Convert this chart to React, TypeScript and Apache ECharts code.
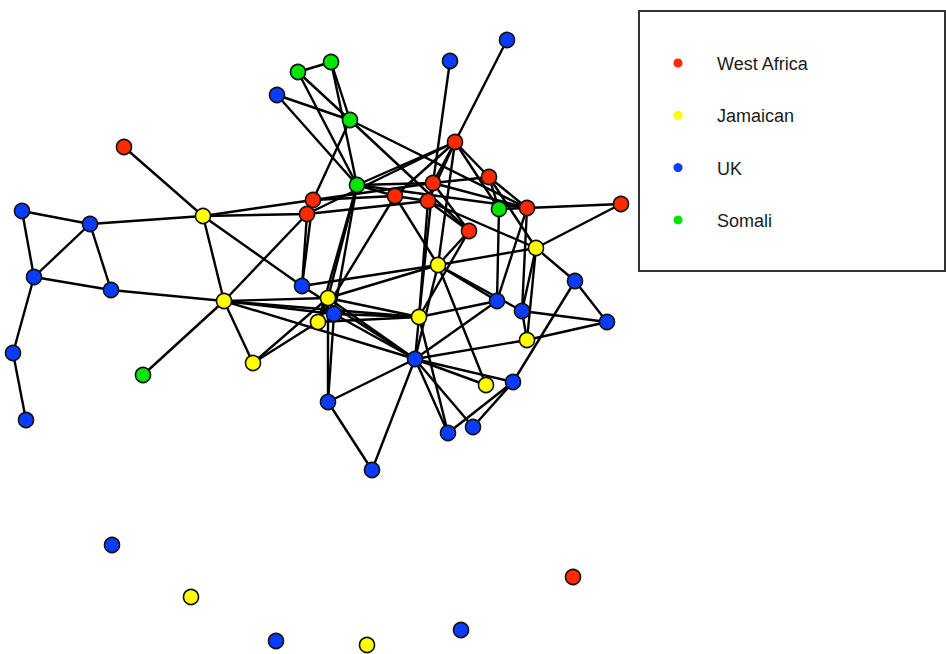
import React, { useEffect, useRef } from "react";
import * as echarts from "echarts";

// Group labels and their node colours
const categories = ["West Africa", "Jamaican", "UK", "Somali"];
const categoryColors = ["#ff2a00", "#ffff00", "#0a3cff", "#00e600"];

// Node layout: [id, category index, x, y] in plot units (y grows downward)
const westAfricaNodes: [string, number, number, number][] = [
  ["R1", 0, 124, 147], ["R2", 0, 313, 200], ["R3", 0, 307, 214], ["R4", 0, 395, 196],
  ["R5", 0, 433, 183], ["R6", 0, 428, 201], ["R7", 0, 455, 142], ["R8", 0, 489, 177],
  ["R9", 0, 469, 231], ["R10", 0, 527, 208], ["R11", 0, 621, 204], ["R12", 0, 573, 577],
];
const jamaicanNodes: [string, number, number, number][] = [
  ["Y1", 1, 203, 216], ["Y2", 1, 224, 301], ["Y3", 1, 253, 363], ["Y4", 1, 328, 298],
  ["Y5", 1, 318, 322], ["Y6", 1, 419, 317], ["Y7", 1, 438, 265], ["Y8", 1, 536, 248],
  ["Y9", 1, 527, 340], ["Y10", 1, 486, 385], ["Y11", 1, 191, 597], ["Y12", 1, 367, 645],
];
const ukNodes: [string, number, number, number][] = [
  ["B1", 2, 22, 211], ["B2", 2, 90, 224], ["B3", 2, 34, 277], ["B4", 2, 111, 290],
  ["B5", 2, 13, 353], ["B6", 2, 26, 420], ["B7", 2, 277, 95], ["B8", 2, 450, 61],
  ["B9", 2, 507, 40], ["B10", 2, 302, 286], ["B11", 2, 334, 314], ["B12", 2, 415, 359],
  ["B13", 2, 328, 402], ["B14", 2, 372, 470], ["B15", 2, 497, 301], ["B16", 2, 522, 311],
  ["B17", 2, 575, 281], ["B18", 2, 607, 322], ["B19", 2, 513, 382], ["B20", 2, 448, 433],
  ["B21", 2, 473, 427], ["B22", 2, 112, 545], ["B23", 2, 276, 641], ["B24", 2, 461, 630],
];
const somaliNodes: [string, number, number, number][] = [
  ["G1", 3, 298, 72], ["G2", 3, 331, 62], ["G3", 3, 350, 120], ["G4", 3, 357, 185],
  ["G5", 3, 499, 209], ["G6", 3, 143, 375],
];

// Ties between people
const edges: [string, string][] = [
  ["B1", "B2"], ["B1", "B3"], ["B2", "B3"], ["B2", "B4"], ["B3", "B4"], ["B3", "B5"], ["B5", "B6"],
  ["B2", "Y1"], ["B4", "Y2"], ["R1", "Y1"], ["Y1", "Y2"], ["Y1", "R2"], ["Y1", "R3"], ["Y1", "B10"],
  ["Y2", "R3"], ["Y2", "G6"], ["Y2", "Y3"], ["Y2", "Y4"], ["Y2", "B11"], ["Y2", "Y6"], ["Y2", "B12"],
  ["Y3", "Y4"], ["Y3", "Y5"],
  ["G1", "G2"], ["G1", "G3"], ["G1", "G4"], ["B7", "G3"], ["B7", "G4"], ["G2", "G3"], ["G2", "G4"],
  ["G3", "R2"], ["G3", "R9"], ["G3", "R10"], ["G4", "R7"], ["G4", "R5"], ["G4", "Y4"], ["G4", "Y5"],
  ["G4", "B11"], ["G4", "R10"], ["G4", "R4"],
  ["B8", "R5"], ["B9", "R7"], ["R7", "R8"], ["R7", "R5"], ["R7", "R6"], ["R7", "R4"], ["R7", "Y7"],
  ["R7", "G5"], ["R7", "R3"],
  ["R2", "R4"], ["R2", "R5"], ["R3", "R6"], ["R3", "B10"], ["R2", "B10"], ["R4", "R6"], ["R4", "Y5"],
  ["R5", "R6"], ["R5", "Y6"], ["R5", "R8"], ["R5", "R10"], ["R6", "Y6"], ["R6", "R9"], ["R6", "Y8"],
  ["R8", "G5"], ["R8", "R10"], ["R8", "Y8"], ["R9", "Y7"], ["R9", "R5"], ["R10", "R11"], ["R11", "Y8"],
  ["G5", "R10"], ["G5", "B15"], ["Y8", "B16"], ["Y8", "Y9"], ["Y8", "B17"], ["B17", "B18"],
  ["B17", "B19"], ["B16", "B18"], ["B16", "Y9"], ["B15", "Y7"], ["Y7", "B16"], ["Y7", "Y4"],
  ["Y7", "B12"], ["Y7", "B10"], ["Y7", "Y10"], ["B15", "B12"], ["Y6", "B15"], ["Y6", "Y4"],
  ["Y6", "B11"], ["Y6", "B12"], ["Y6", "Y5"], ["Y6", "B20"], ["Y4", "B11"], ["Y4", "Y5"],
  ["Y4", "B13"], ["B11", "B13"], ["B11", "B12"], ["Y4", "B12"], ["B12", "B13"], ["B12", "B14"],
  ["B13", "B14"], ["B12", "Y10"], ["B12", "B20"], ["B12", "B21"], ["B12", "Y9"], ["B12", "B19"],
  ["B19", "B20"], ["B19", "B21"], ["Y9", "B18"], ["B10", "B12"], ["R9", "Y6"], ["Y7", "R4"],
  ["Y7", "Y8"], ["B16", "R10"], ["B15", "R10"],
];

export default function App() {
  const ref = useRef<HTMLDivElement>(null);

  useEffect(() => {
    if (!ref.current) return;
    const chart = echarts.init(ref.current, undefined, { renderer: "svg" });

    const allNodes = [...westAfricaNodes, ...jamaicanNodes, ...ukNodes, ...somaliNodes];
    const data = allNodes.map(([id, cat, x, y]) => ({
      name: id,
      value: [x, y],
      category: cat,
    }));
    const links = edges.map(([s, t]) => ({ source: s, target: t }));

    // Legend box drawn from the category list
    const legendX = 639;
    const legendY = 11;
    const legendItems = categories.flatMap((name, i) => [
      {
        type: "circle",
        shape: { cx: legendX + 39, cy: legendY + 52 + i * 52.3, r: 4.5 },
        style: { fill: categoryColors[i] },
        z: 20,
      },
      {
        type: "text",
        x: legendX + 78,
        y: legendY + 53 + i * 52.3,
        style: {
          text: name,
          fill: "#1a1a1a",
          font: "18px 'Liberation Sans', Arial, sans-serif",
          verticalAlign: "middle",
        },
        z: 20,
      },
    ]);

    chart.setOption({
      animation: false,
      backgroundColor: "#ffffff",
      grid: { left: 0, right: 0, top: 0, bottom: 0 },
      xAxis: { type: "value", min: 0, max: 946, show: false },
      yAxis: { type: "value", min: 0, max: 654, inverse: true, show: false },
      series: [
        {
          type: "graph",
          coordinateSystem: "cartesian2d",
          layout: "none",
          symbol: "circle",
          symbolSize: 15,
          categories: categories.map((name, i) => ({
            name,
            itemStyle: { color: categoryColors[i] },
          })),
          data,
          links,
          itemStyle: { borderColor: "#111111", borderWidth: 1.6 },
          lineStyle: { color: "#000000", width: 2.4, opacity: 1, curveness: 0 },
          label: { show: false },
          emphasis: { disabled: true },
        },
      ],
      graphic: [
        {
          type: "rect",
          shape: { x: legendX, y: legendY, width: 306, height: 260 },
          style: { fill: "#ffffff", stroke: "#333333", lineWidth: 2 },
          z: 10,
        },
        ...legendItems,
      ],
    });

    return () => chart.dispose();
  }, []);

  return (
    <div
      ref={ref}
      style={{ position: "fixed", left: 0, top: 0, width: 946, height: 654 }}
    />
  );
}
